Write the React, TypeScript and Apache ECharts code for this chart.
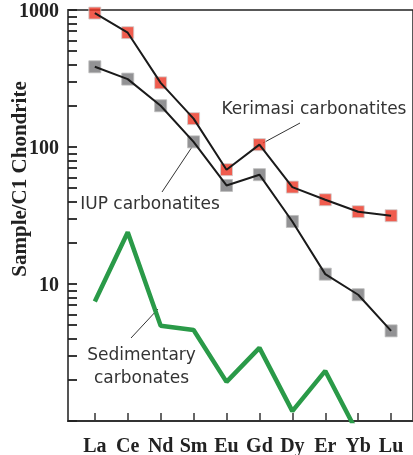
import React, { useEffect, useRef } from "react";
import * as echarts from "echarts";

const categories = ["La", "Ce", "Nd", "Sm", "Eu", "Gd", "Dy", "Er", "Yb", "Lu"];
const kerimasi = [950, 683, 294, 161, 68.3, 104, 51, 41.2, 33.7, 31.5];
const iup = [385, 313, 200, 109, 52.4, 62.8, 28.6, 11.8, 8.35, 4.55];
const sedimentary = [7.46, 23.9, 4.95, 4.61, 1.93, 3.42, 1.18, 2.32, 0.8, null];
const yLabelValues = [10, 100, 1000];
const yMinorTicks = [1, 2, 3, 4, 5, 6, 7, 8, 9, 10, 20, 30, 40, 50, 60, 70, 80, 90, 100, 200, 300, 400, 500, 600, 700, 800, 900, 1000];

const serif = "Liberation Serif, Times New Roman, serif";
const sans = "DejaVu Sans, sans-serif";
const X_MIN = -0.815;
const X_MAX = 9.665;

export default function App() {
  const ref = useRef<HTMLDivElement>(null);
  useEffect(() => {
    if (!ref.current) return;
    const chart = echarts.init(ref.current, null, { renderer: "svg" });
    const idx = categories.map((_, i) => i);
    const toPts = (arr: (number | null)[]) => arr.map((v, i) => [i, v]);
    chart.setOption({
      animation: false,
      grid: { left: 68, right: -2, top: 10, bottom: 34, show: true, borderColor: "#222", borderWidth: 1.5 },
      xAxis: {
        type: "value",
        min: X_MIN,
        max: X_MAX,
        axisLine: { show: true, lineStyle: { color: "#333", width: 2 } },
        axisTick: { show: true, inside: true, length: 8, customValues: idx, lineStyle: { color: "#333", width: 1.5 } },
        axisLabel: {
          customValues: idx,
          formatter: (v: number) => categories[Math.round(v)] ?? "",
          fontFamily: serif,
          fontWeight: "bold",
          fontSize: 20,
          color: "#222",
          margin: 14,
        },
        splitLine: { show: true, lineStyle: { color: "rgba(0,0,0,0)" } },
      },
      yAxis: [
        {
          type: "log",
          min: 1,
          max: 1000,
          axisLine: { show: true, onZero: false, lineStyle: { color: "#555", width: 2 } },
          axisTick: { show: false },
          axisLabel: {
            customValues: yLabelValues,
            formatter: (v: number) => String(Math.round(v)),
            fontFamily: serif,
            fontWeight: "bold",
            fontSize: 20,
            color: "#222",
            margin: 9,
          },
          splitLine: { show: true, lineStyle: { color: "rgba(0,0,0,0)" } },
        },
        {
          type: "log",
          position: "left",
          min: 1,
          max: 1000,
          axisLine: { show: false, onZero: false },
          axisTick: { show: true, inside: true, length: 9, customValues: yMinorTicks, lineStyle: { color: "#222", width: 1.8 } },
          axisLabel: { show: false },
          splitLine: { show: true, lineStyle: { color: "rgba(0,0,0,0)" } },
        },
      ],
      series: [
        {
          type: "scatter",
          name: "Kerimasi squares",
          symbol: "rect",
          symbolSize: 12,
          itemStyle: { color: "#EC3322", borderColor: "#cfcfcf", borderWidth: 1 },
          data: toPts(kerimasi),
        },
        {
          type: "scatter",
          name: "IUP squares",
          symbol: "rect",
          symbolSize: 12,
          itemStyle: { color: "#777779", borderColor: "#bdbdbd", borderWidth: 1 },
          data: toPts(iup),
        },
        {
          type: "line",
          name: "Kerimasi carbonatites",
          symbol: "none",
          lineStyle: { color: "#1a1a1a", width: 2 },
          data: toPts(kerimasi),
          z: 3,
        },
        {
          type: "line",
          name: "IUP carbonatites",
          symbol: "none",
          lineStyle: { color: "#1a1a1a", width: 2 },
          data: toPts(iup),
          z: 3,
        },
        {
          type: "line",
          name: "Sedimentary carbonates",
          symbol: "none",
          clip: true,
          lineStyle: { color: "#2a9a48", width: 4.5 },
          data: toPts(sedimentary),
          z: 3,
        },
      ],
      graphic: [
        {
          type: "text",
          x: 19,
          y: 179,
          rotation: Math.PI / 2,
          style: { text: "Sample/C1 Chondrite", font: `bold 21px ${serif}`, fill: "#222", textAlign: "center", textVerticalAlign: "middle" },
        },
        {
          type: "text",
          x: 314,
          y: 108,
          style: { text: "Kerimasi carbonatites", font: `17px ${sans}`, fill: "#333", textAlign: "center", textVerticalAlign: "middle" },
        },
        { type: "line", shape: { x1: 300, y1: 123, x2: 263, y2: 143 }, style: { stroke: "#333", lineWidth: 1 } },
        {
          type: "text",
          x: 150,
          y: 203,
          style: { text: "IUP carbonatites", font: `17px ${sans}`, fill: "#333", textAlign: "center", textVerticalAlign: "middle" },
        },
        { type: "line", shape: { x1: 162, y1: 192, x2: 192, y2: 147 }, style: { stroke: "#333", lineWidth: 1 } },
        {
          type: "text",
          x: 141.5,
          y: 354,
          style: { text: "Sedimentary", font: `17px ${sans}`, fill: "#333", textAlign: "center", textVerticalAlign: "middle" },
        },
        {
          type: "text",
          x: 141.5,
          y: 377,
          style: { text: "carbonates", font: `17px ${sans}`, fill: "#333", textAlign: "center", textVerticalAlign: "middle" },
        },
        { type: "line", shape: { x1: 131, y1: 338, x2: 158, y2: 309 }, style: { stroke: "#333", lineWidth: 1 } },
      ],
    });
    return () => chart.dispose();
  }, []);
  return <div ref={ref} style={{ position: "fixed", left: 0, top: 0, width: 413, height: 455 }} />;
}
